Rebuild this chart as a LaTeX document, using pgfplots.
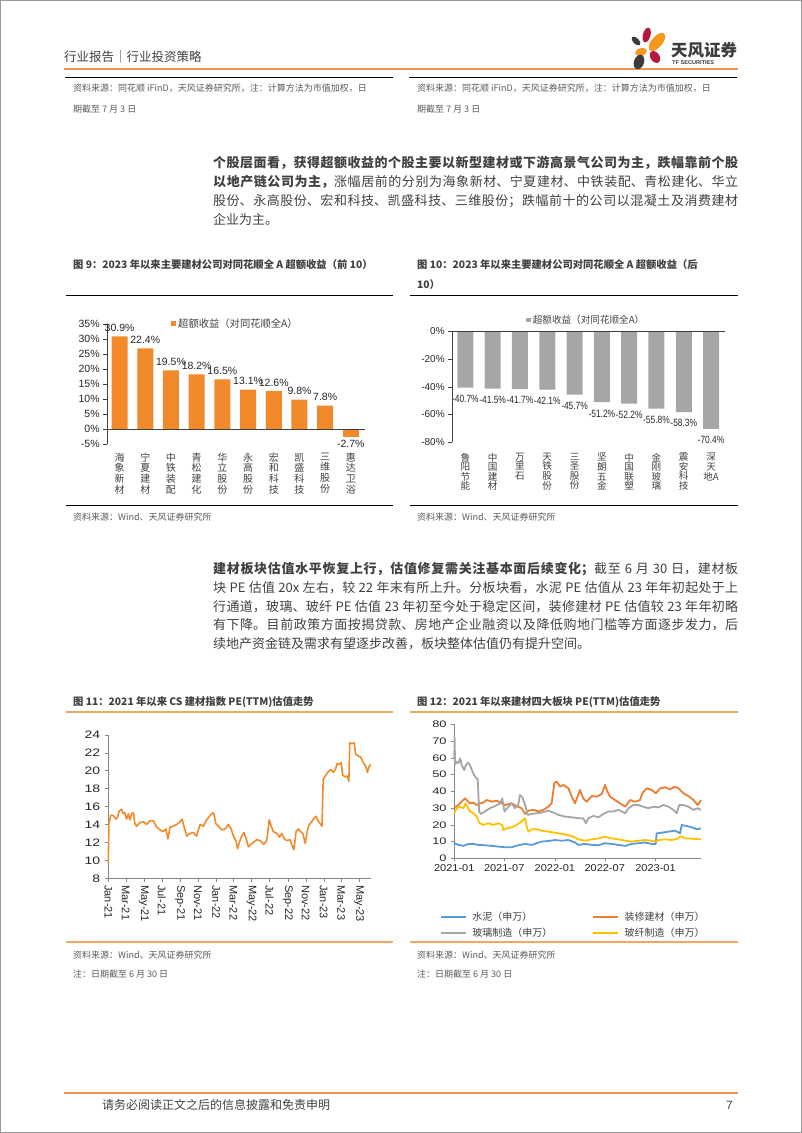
\documentclass[border=0pt]{standalone}
\usepackage{fontspec}
\setmainfont{Noto Sans CJK SC}
\newfontfamily\lib{Liberation Sans}
\usepackage{pgfplots}
\pgfplotsset{compat=1.18}
\XeTeXlinebreaklocale "zh"
\XeTeXlinebreakskip=0pt plus 1pt

\definecolor{txt}{HTML}{404040}
\definecolor{src}{HTML}{595959}
\definecolor{hdr}{HTML}{EB9547}
\definecolor{thin}{HTML}{F6C69B}
\definecolor{sep}{HTML}{F2A865}
\definecolor{barO}{HTML}{F28A2B}
\definecolor{barG}{HTML}{A6A6A6}
\definecolor{axisc}{HTML}{404040}
\definecolor{axisg}{HTML}{868686}
\definecolor{cBlue}{HTML}{5B9BD5}
\definecolor{cOrg}{HTML}{ED7D31}
\definecolor{cGray}{HTML}{A5A5A5}
\definecolor{cYel}{HTML}{FFC000}
\definecolor{logoR}{HTML}{B8173D}
\definecolor{logoO}{HTML}{F39A1E}
\definecolor{logoK}{HTML}{3C3C3C}

\begin{document}
\begin{tikzpicture}[x=1pt,y=1pt]
\useasboundingbox (0,0) rectangle (802,1133);
\draw[gray!80, line width=1pt] (0.5,0.5) rectangle (801.5,1132.5);

% ---------- header ----------
\node[anchor=west, inner sep=0pt, text=txt, font=\fontsize{12.5}{14}\selectfont] at (64,1076) {行业报告｜行业投资策略};
\draw[hdr, line width=1.8pt] (64,1064) -- (738,1064);
% logo
\fill[logoR, rotate around={-15:(646.7,1098)}] (646.7,1098) ellipse (3.8pt and 7.5pt);
\fill[logoO, rotate around={-40:(657,1091)}] (657,1091) ellipse (5.5pt and 11pt);
\fill[logoK, rotate around={45:(636,1092)}] (636,1092) ellipse (3pt and 5.5pt);
\fill[logoO, rotate around={15:(641,1081)}] (641,1081) ellipse (6pt and 3.8pt);
\fill[logoR, rotate around={35:(655,1076)}] (655,1076) ellipse (4.5pt and 6.5pt);
\fill[logoK, rotate around={-20:(639,1071)}] (639,1071) ellipse (5pt and 7.5pt);
\node[anchor=west, inner sep=0pt, text=logoK, font=\bfseries\fontsize{16.5}{18}\selectfont] at (671,1083) {天风证券};
\node[anchor=west, inner sep=0pt, text=logoK, font=\lib\bfseries\fontsize{5.6}{6}\selectfont] at (672,1070) {TF SECURITIES};

\draw[thin, line width=0.8pt] (65,1056) -- (393,1056);
\draw[thin, line width=0.8pt] (409,1056) -- (737,1056);
\foreach \xx in {73,417} {
  \node[anchor=west, inner sep=0pt, text=src, font=\fontsize{9}{10}\selectfont] at (\xx,1045) {资料来源：同花顺 iFinD，天风证券研究所，注：计算方法为市值加权，日};
  \node[anchor=west, inner sep=0pt, text=src, font=\fontsize{9}{10}\selectfont] at (\xx,1024) {期截至 7 月 3 日};
}

% ---------- paragraph 1 ----------
\node[anchor=north west, inner sep=0pt, text width=525pt, align=justify, text=txt, font=\fontsize{13}{19.1}\selectfont] at (213,977)
{\textbf{个股层面看，获得超额收益的个股主要以新型建材或下游高景气公司为主，跌幅靠前个股}\linebreak
\textbf{以地产链公司为主，}涨幅居前的分别为海象新材、宁夏建材、中铁装配、青松建化、华立\linebreak
股份、永高股份、宏和科技、凯盛科技、三维股份；跌幅前十的公司以混凝土及消费建材\linebreak
企业为主。};

% ---------- chart 9 / 10 frames ----------
\node[anchor=west, inner sep=0pt, text=txt, font=\bfseries\fontsize{10.3}{12}\selectfont] at (73,868) {图 9：2023 年以来主要建材公司对同花顺全 A 超额收益（前 10）};
\node[anchor=west, inner sep=0pt, text=txt, font=\bfseries\fontsize{10.3}{12}\selectfont] at (417,868) {图 10：2023 年以来主要建材公司对同花顺全 A 超额收益（后};
\node[anchor=west, inner sep=0pt, text=txt, font=\bfseries\fontsize{10.3}{12}\selectfont] at (417,848) {10）};
\draw[thin, line width=0.8pt] (66,838) -- (393,838);
\draw[thin, line width=0.8pt] (410,838) -- (738,838);
\draw[thin, line width=0.8pt] (66,627.5) -- (393,627.5);
\draw[thin, line width=0.8pt] (410,627.5) -- (738,627.5);
\node[anchor=west, inner sep=0pt, text=src, font=\fontsize{9}{10}\selectfont] at (73,616) {资料来源：Wind、天风证券研究所};
\node[anchor=west, inner sep=0pt, text=src, font=\fontsize{9}{10}\selectfont] at (417,616) {资料来源：Wind、天风证券研究所};

% chart 9
\begin{axis}[at={(106.7pt,689pt)}, anchor=south west, scale only axis,
  width=258.3pt, height=120pt,
  xmin=-0.5, xmax=9.55, ymin=-5, ymax=35,
  ybar, bar width=16pt,
  axis y line*=left, axis x line*=bottom,
  x axis line style={draw=none}, y axis line style={draw=axisc},
  tick align=outside, major tick length=3.5pt,
  ytick={-5,0,5,10,15,20,25,30,35},
  yticklabels={-5\%,0\%,5\%,10\%,15\%,20\%,25\%,30\%,35\%},
  ytick style={draw=axisc},
  yticklabel style={font=\lib\fontsize{10.5}{12}\selectfont, text=black!85},
  xtick={0,...,9}, xtick style={draw=none},
  xticklabels={{海\\象\\新\\材},{宁\\夏\\建\\材},{中\\铁\\装\\配},{青\\松\\建\\化},{华\\立\\股\\份},{永\\高\\股\\份},{宏\\和\\科\\技},{凯\\盛\\科\\技},{三\\维\\股\\份},{惠\\达\\卫\\浴}},
  xticklabel style={align=center, font=\fontsize{10}{10.7}\selectfont, text=txt, inner sep=0pt, yshift=-5pt},
  point meta=explicit symbolic,
  legend style={draw=none, fill=none, at={(0.249,1)}, anchor=west, inner sep=0pt,
    font=\fontsize{10.3}{12}\selectfont, text=txt},
  legend image code/.code={\fill[#1] (0pt,-2.5pt) rectangle (5pt,2.5pt);},
  clip=false]
\addplot[fill=barO, draw=none, bar shift=0pt, nodes near coords,
  nodes near coords style={anchor=south, yshift=1.5pt, font=\lib\fontsize{10.5}{12}\selectfont, text=black!85}]
  coordinates {(0,30.9)[30.9\%] (1,26.9)[22.4\%] (2,19.5)[19.5\%] (3,18.2)[18.2\%] (4,16.5)[16.5\%]
               (5,13.1)[13.1\%] (6,12.6)[12.6\%] (7,9.8)[9.8\%] (8,7.8)[7.8\%]};
\addlegendentry{超额收益（对同花顺全A）}
\addplot[fill=barO, draw=none, bar shift=0pt, forget plot, nodes near coords,
  nodes near coords style={anchor=north, yshift=0pt, font=\lib\fontsize{10.5}{12}\selectfont, text=black!85}]
  coordinates {(9,-2.7)[-2.7\%]};
\draw[axisc, line width=0.5pt] (axis cs:-0.5,0) -- (axis cs:9.55,0);
\end{axis}

% chart 10
\begin{axis}[at={(451.7pt,690.7pt)}, anchor=south west, scale only axis,
  width=273.3pt, height=111.3pt,
  xmin=-0.5, xmax=9.51, ymin=-80, ymax=0,
  ybar, bar width=16pt,
  axis y line*=left, axis x line*=bottom,
  x axis line style={draw=none}, y axis line style={draw=axisc},
  tick align=outside, major tick length=3.5pt,
  ytick={-80,-60,-40,-20,0},
  yticklabels={-80\%,-60\%,-40\%,-20\%,0\%},
  ytick style={draw=axisc},
  yticklabel style={font=\lib\fontsize{10}{12}\selectfont, text=black!85},
  xtick={0,...,9}, xtick style={draw=none},
  xticklabels={{鲁\\阳\\节\\能},{中\\国\\建\\材},{万\\里\\石},{天\\铁\\股\\份},{三\\圣\\股\\份},{坚\\朗\\五\\金},{中\\国\\联\\塑},{金\\刚\\玻\\璃},{震\\安\\科\\技},{深\\天\\地A}},
  xticklabel style={align=center, font=\fontsize{9.6}{9.6}\selectfont, text=txt, inner sep=0pt, yshift=-7pt, anchor=north},
  point meta=explicit symbolic,
  legend style={draw=none, fill=none, at={(0.272,1.099)}, anchor=west, inner sep=0pt,
    font=\fontsize{9.6}{12}\selectfont, text=txt},
  legend image code/.code={\fill[#1] (0pt,-2.3pt) rectangle (4.6pt,2.3pt);},
  clip=false]
\addplot[fill=barG, draw=none, bar shift=0pt, nodes near coords,
  nodes near coords style={anchor=north, yshift=-4pt, xscale=0.8, font=\lib\fontsize{10.5}{12}\selectfont, text=black!85}]
  coordinates {(0,-40.7)[-40.7\%] (1,-41.5)[-41.5\%] (2,-41.7)[-41.7\%] (3,-42.1)[-42.1\%] (4,-45.7)[-45.7\%]
               (5,-51.2)[-51.2\%] (6,-52.2)[-52.2\%] (7,-55.8)[-55.8\%] (8,-58.3)[-58.3\%] (9,-70.4)[-70.4\%]};
\addlegendentry{超额收益（对同花顺全A）}
\draw[axisc, line width=0.5pt] (axis cs:-0.5,0) -- (axis cs:9.51,0);
\end{axis}

% ---------- paragraph 2 ----------
\node[anchor=north west, inner sep=0pt, text width=525pt, align=justify, text=txt, font=\fontsize{13}{18.8}\selectfont] at (213,571)
{\textbf{建材板块估值水平恢复上行，估值修复需关注基本面后续变化；}截至 6 月 30 日，建材板\linebreak
块 PE 估值 20x 左右，较 22 年末有所上升。分板块看，水泥 PE 估值从 23 年年初起处于上\linebreak
行通道，玻璃、玻纤 PE 估值 23 年初至今处于稳定区间，装修建材 PE 估值较 23 年年初略\linebreak
有下降。目前政策方面按揭贷款、房地产企业融资以及降低购地门槛等方面逐步发力，后\linebreak
续地产资金链及需求有望逐步改善，板块整体估值仍有提升空间。};

% ---------- chart 11 / 12 frames ----------
\node[anchor=west, inner sep=0pt, text=txt, font=\bfseries\fontsize{10.3}{12}\selectfont] at (73,431) {图 11：2021 年以来 CS 建材指数 PE(TTM)估值走势};
\node[anchor=west, inner sep=0pt, text=txt, font=\bfseries\fontsize{10.3}{12}\selectfont] at (417,431) {图 12：2021 年以来建材四大板块 PE(TTM)估值走势};
\draw[sep, line width=1.1pt] (66,421) -- (393,421);
\draw[sep, line width=1.1pt] (410,421) -- (738,421);
\draw[sep, line width=1.1pt] (66,191) -- (393,191);
\draw[sep, line width=1.1pt] (410,191) -- (738,191);
\foreach \xx in {73,417} {
  \node[anchor=west, inner sep=0pt, text=src, font=\fontsize{9}{10}\selectfont] at (\xx,178) {资料来源：Wind、天风证券研究所};
  \node[anchor=west, inner sep=0pt, text=src, font=\fontsize{9}{10}\selectfont] at (\xx,159) {注：日期截至 6 月 30 日};
}

% chart 11
\begin{axis}[at={(108.3pt,254.7pt)}, anchor=south west, scale only axis,
  width=262.4pt, height=143.6pt,
  xmin=0, xmax=889, ymin=8, ymax=24,
  axis x line*=bottom, axis y line*=left,
  axis line style={draw=axisg}, tick style={draw=axisg},
  tick align=outside, major tick length=3.5pt,
  ytick={8,10,...,24},
  /pgf/number format/assume math mode=true,
  yticklabel style={font=\lib\fontsize{10.8}{12}\selectfont, text=black!85, xscale=1.3},
  xtick={0,59,120,181,243,304,365,424,485,546,608,669,730,789,850},
  xticklabels={Jan-21,Mar-21,May-21,Jul-21,Sep-21,Nov-21,Jan-22,Mar-22,May-22,Jul-22,Sep-22,Nov-22,Jan-23,Mar-23,May-23},
  xticklabel style={rotate=-90, anchor=west, font=\lib\fontsize{11}{12}\selectfont, text=black!85},
  clip=false]
\addplot[color=barO, line width=1.6pt, line join=round, mark=none] table {
0 9.7
2 14.1
8 15.0
17 15.0
26 14.6
31 14.8
37 15.5
45 15.7
51 15.2
56 15.3
62 14.6
68 15.2
73 14.5
79 15.2
85 15.3
90 14.1
96 13.8
107 14.2
119 14.3
130 14.0
141 14.4
153 14.4
164 13.7
175 13.4
186 13.2
195 13.5
202 12.4
209 13.7
220 13.8
232 14.0
243 14.3
250 14.6
257 13.7
266 12.7
277 13.0
288 13.1
299 12.7
311 14.0
322 13.8
333 14.5
345 15.0
354 15.3
358 15.2
364 14.1
373 13.8
384 13.4
396 13.5
407 14.0
415 13.6
424 12.7
433 12.1
438 11.3
444 12.0
452 12.7
460 13.1
467 12.4
475 11.5
483 11.8
492 12.0
503 12.3
514 12.2
526 11.8
535 12.1
539 12.7
545 14.5
550 14.0
559 13.2
571 13.0
580 12.6
588 13.0
596 12.4
605 12.2
616 12.3
622 11.7
629 11.2
636 13.2
644 13.5
652 13.2
659 13.0
667 11.9
675 13.4
681 14.0
689 14.3
697 14.7
704 14.9
712 14.3
720 14.0
724 13.8
728 19.0
735 19.4
746 19.9
754 20.1
763 19.8
770 20.2
776 20.8
783 20.7
789 20.9
794 19.5
802 19.3
810 19.4
815 18.8
818 23.1
825 23.0
833 23.1
838 21.8
848 21.6
855 21.5
864 20.9
873 20.4
878 19.8
883 20.4
889 20.7
};
\end{axis}

% chart 12
\begin{axis}[at={(454.3pt,274.7pt)}, anchor=south west, scale only axis,
  width=246.7pt, height=134pt,
  xmin=0, xmax=895, ymin=0, ymax=80,
  axis x line*=bottom, axis y line*=left,
  axis line style={draw=axisg}, tick style={draw=axisg},
  tick align=outside, major tick length=3pt,
  ytick={0,10,...,80},
  /pgf/number format/assume math mode=true,
  yticklabel style={font=\lib\fontsize{9.5}{11}\selectfont, text=black!85, xscale=1.35},
  xtick={0,181,365,546,730},
  xticklabels={2021-01,2021-07,2022-01,2022-07,2023-01},
  xticklabel style={font=\lib\fontsize{10}{12}\selectfont, text=black!85, xscale=1.1},
  legend columns=2,
  legend cell align=left,
  legend style={draw=none, fill=none, at={(-0.058,-0.385)}, anchor=north west,
    font=\fontsize{10}{12}\selectfont, text=txt, inner sep=0pt, row sep=2pt,
    /tikz/every odd column/.append style={column sep=3pt}},
  legend image code/.code={\draw[#1, line width=2.2pt] (0pt,0pt) -- (25pt,0pt);},
  clip=false]
\addplot[color=cBlue, line width=1.8pt, line join=round, mark=none] table {
0 9.0
15 8.0
33 7.4
51 8.6
69 8.6
87 8.0
111 7.8
136 7.4
160 7.0
184 6.6
208 6.6
232 7.8
257 8.6
281 8.0
299 9.0
317 10.0
341 10.3
365 10.9
390 10.5
414 10.9
438 9.4
450 8.0
474 8.6
499 8.0
523 7.8
547 9.0
571 8.6
595 8.0
620 7.4
644 8.6
668 9.0
692 9.4
716 8.6
731 8.6
734 14.9
753 15.3
777 15.9
801 16.5
819 14.9
825 19.9
843 19.3
862 18.5
880 17.3
895 17.9
};
\addlegendentry{\makebox[118pt][l]{水泥（申万）}}
\addplot[color=cOrg, line width=1.8pt, line join=round, mark=none] table {
0 30.4
15 31.8
27 33.8
39 35.8
45 34.8
57 32.8
69 33.2
81 31.8
93 32.8
105 33.2
117 34.8
136 33.8
154 34.4
172 32.8
184 31.8
208 32.8
226 31.2
244 29.9
257 26.5
269 28.5
287 28.9
305 27.9
323 28.9
341 30.8
353 32.8
363 44.8
371 45.8
384 42.8
396 43.8
414 41.8
426 36.8
438 32.8
448 37.2
456 40.8
468 35.8
480 33.8
499 37.2
517 36.8
535 38.4
547 43.8
553 40.8
565 36.8
583 34.8
601 32.8
620 30.8
638 34.8
656 33.8
674 34.8
682 38.8
698 41.8
716 40.8
731 38.8
747 41.8
765 42.4
783 41.2
801 42.8
813 41.8
831 38.8
849 37.2
868 34.8
883 31.8
895 34.8
};
\addlegendentry{装修建材（申万）}
\addplot[color=cGray, line width=1.8pt, line join=round, mark=none] table {
0 60.0
1 72.0
3 56.0
8 57.7
15 56.7
21 59.7
27 55.7
36 52.7
42 55.7
51 57.1
59 54.7
69 50.7
77 48.4
85 47.2
90 27.9
97 26.5
111 27.9
129 29.9
148 31.2
166 32.8
174 35.8
182 27.9
196 30.8
208 32.8
220 29.9
232 31.8
238 37.8
247 36.4
257 31.8
266 25.9
281 26.5
299 26.9
317 27.3
341 28.5
359 27.3
378 25.9
402 24.9
426 24.5
450 23.9
468 23.9
477 20.9
486 23.9
505 25.3
523 24.5
541 26.5
559 27.9
577 27.9
595 28.9
620 26.9
632 29.9
650 31.8
668 31.8
686 30.8
704 29.9
722 30.8
741 30.4
759 31.8
777 30.8
795 28.9
807 26.9
816 31.8
831 31.8
849 30.8
868 28.9
883 29.9
895 28.9
};
\addlegendentry{\makebox[118pt][l]{玻璃制造（申万）}}
\addplot[color=cYel, line width=1.8pt, line join=round, mark=none] table {
0 26.9
8 29.9
21 30.8
33 29.9
41 32.8
48 30.8
57 27.9
69 26.9
81 24.9
90 21.3
105 19.9
123 20.9
142 19.9
160 20.9
174 19.9
178 16.9
190 17.9
208 18.5
226 19.9
244 21.9
257 23.9
263 18.9
269 15.9
281 17.3
299 17.3
317 16.5
341 15.9
365 15.3
390 14.5
414 13.9
432 12.9
450 11.3
474 10.5
499 11.3
523 11.9
547 12.9
571 11.9
595 11.3
620 10.5
644 10.0
668 10.5
692 10.9
716 10.5
731 10.0
741 10.9
765 11.3
789 10.9
813 11.9
823 13.3
837 11.9
861 11.7
895 11.3
};
\addlegendentry{玻纤制造（申万）}
\end{axis}

% ---------- footer ----------
\draw[hdr, line width=1.8pt] (64,40) -- (738,40);
\node[anchor=west, inner sep=0pt, text=txt, font=\fontsize{12}{14}\selectfont] at (102,28) {请务必阅读正文之后的信息披露和免责申明};
\node[anchor=east, inner sep=0pt, text=txt, font=\lib\fontsize{12}{14}\selectfont] at (733,28) {7};
\end{tikzpicture}
\end{document}
